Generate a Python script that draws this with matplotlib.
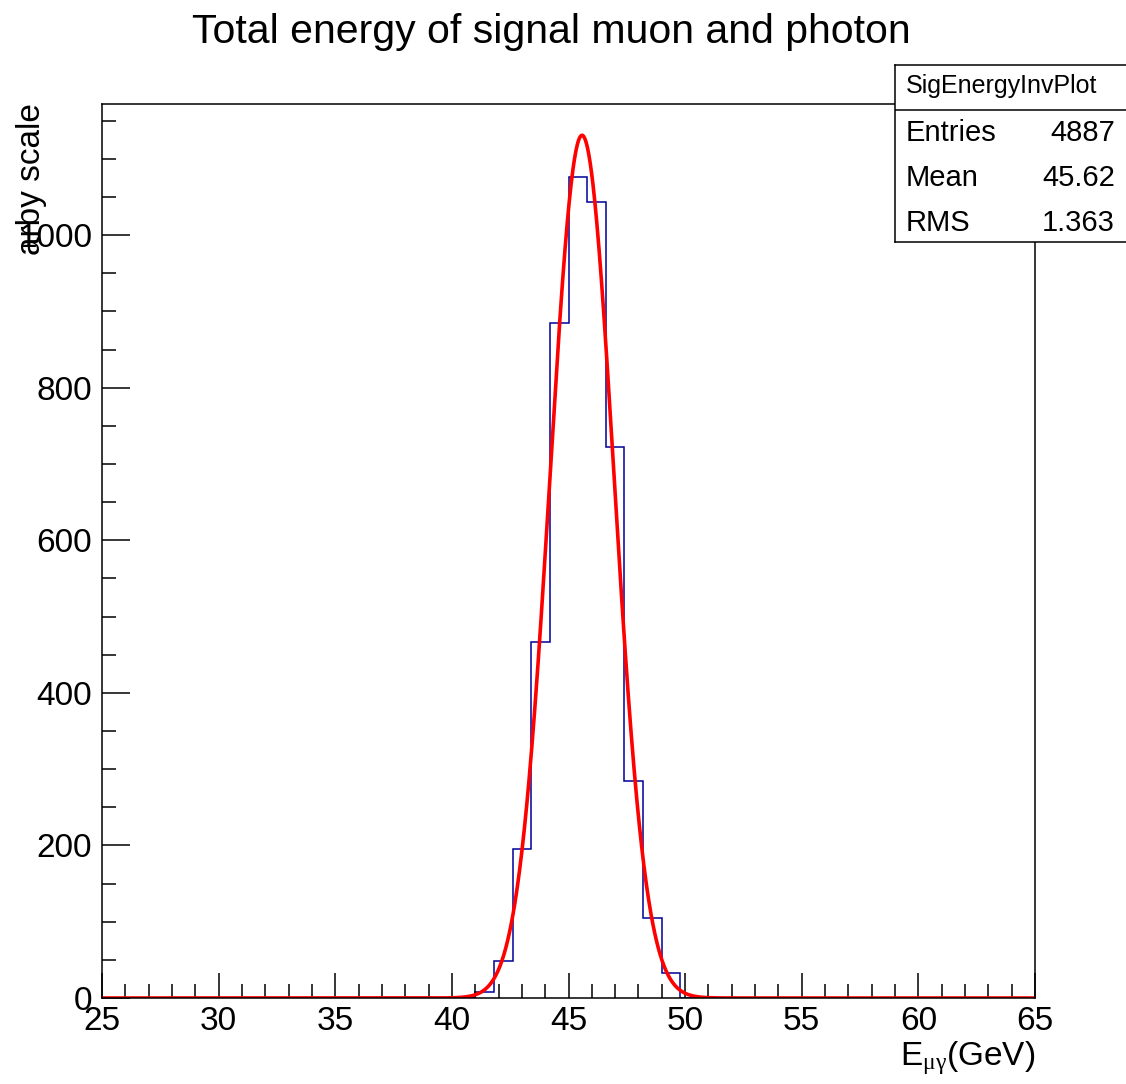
import numpy as np
import matplotlib.pyplot as plt
from matplotlib.ticker import MultipleLocator

plt.rcParams['font.family'] = ['Liberation Sans', 'DejaVu Sans']
plt.rcParams['mathtext.fontset'] = 'custom'
plt.rcParams['mathtext.rm'] = 'Liberation Serif'
plt.rcParams['mathtext.it'] = 'Liberation Serif'

# histogram: 50 bins from 25 to 65 GeV
x_lo, x_hi, n_bins = 25.0, 65.0, 50
counts = [0] * 20 + [8, 48, 195, 467, 885, 1076, 1044, 722, 285, 105, 33] + [0] * 19

# gaussian fit parameters (constant, mean, sigma)
fit_const = 1131.0
fit_mean = 45.58
fit_sigma = 1.37

stats_name = "SigEnergyInvPlot"
stats_rows = [("Entries", "4887"), ("Mean", "45.62"), ("RMS", "1.363")]

W, H = 1126, 1084
fig = plt.figure(figsize=(W / 100, H / 100), dpi=100)
ax = fig.add_axes([102 / W, 1 - 998 / H, (1035 - 102) / W, (998 - 104) / H])

edges = np.linspace(x_lo, x_hi, n_bins + 1)
ax.stairs(counts, edges, color='#000099', lw=1.1, baseline=0)

xf = np.linspace(x_lo, x_hi, 2000)
yf = fit_const * np.exp(-0.5 * ((xf - fit_mean) / fit_sigma) ** 2)
ax.plot(xf, yf, color='red', lw=2.6, solid_joinstyle='round')

ax.set_xlim(x_lo, x_hi)
ax.set_ylim(0, 1172)
ax.xaxis.set_major_locator(MultipleLocator(5))
ax.xaxis.set_minor_locator(MultipleLocator(1))
ax.yaxis.set_major_locator(MultipleLocator(200))
ax.yaxis.set_minor_locator(MultipleLocator(50))
ax.tick_params(axis='both', which='both', direction='in', width=1.1, labelsize=24)
ax.tick_params(axis='x', which='major', length=18, pad=6)
ax.tick_params(axis='x', which='minor', length=10)
ax.tick_params(axis='y', which='major', length=20, pad=7)
ax.tick_params(axis='y', which='minor', length=10)
for sp in ax.spines.values():
    sp.set_linewidth(1.1)

fig.text(551 / W, 1 - 32 / H, "Total energy of signal muon and photon",
         ha='center', va='center', fontsize=29.5)
fig.text(32 / W, 1 - 103 / H, "arby scale", rotation=90,
         ha='center', va='top', fontsize=24)
fig.text(1035 / W, 1 - 1058 / H, r"E$_{\mathrm{\mu\gamma}}$(GeV)",
         ha='right', va='center', fontsize=24)

# stats box
sx0, sy0, sy1 = 895, 65, 242
sbox = fig.add_axes([sx0 / W, 1 - sy1 / H, (W - sx0 + 20) / W, (sy1 - sy0) / H])
sbox.set_xlim(sx0, W + 20)
sbox.set_ylim(sy1, sy0)
sbox.set_xticks([])
sbox.set_yticks([])
sbox.set_facecolor('white')
for sp in sbox.spines.values():
    sp.set_linewidth(1.1)
sbox.axhline(110, color='black', lw=1.1)
sbox.text(906, 86, stats_name, ha='left', va='center', fontsize=18)
row_y = [133, 178, 223]
for (lab, val), y in zip(stats_rows, row_y):
    sbox.text(906, y, lab, ha='left', va='center', fontsize=21)
    sbox.text(1115, y, val, ha='right', va='center', fontsize=21)

fig.savefig("out.png", dpi=100)
